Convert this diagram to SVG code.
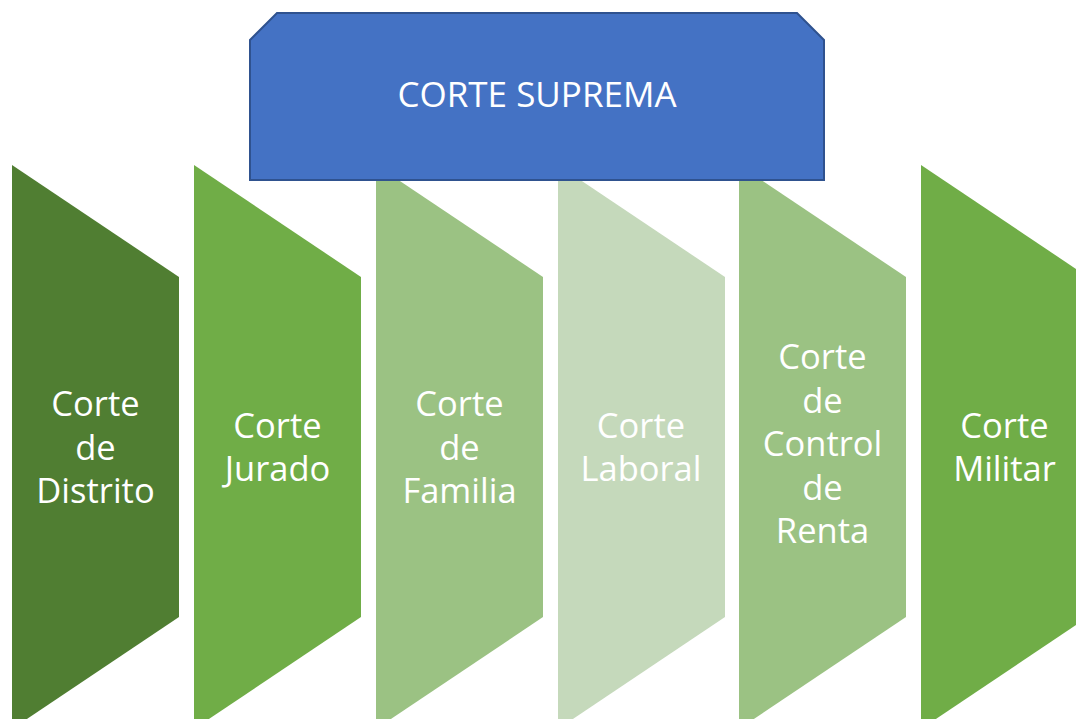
<svg xmlns="http://www.w3.org/2000/svg" width="1076" height="719" viewBox="0 0 1076 719">
<style>
.t{font-family:"Open Sans","Liberation Sans",sans-serif;fill:#ffffff;text-anchor:middle}
.g{font-size:34.5px}
.s{font-size:35px}
</style>
<defs>
<path id="sh" d="M0,0 L167,112 L167,452 L0,564 Z"/>
</defs>
<rect width="1076" height="719" fill="#ffffff"/>
<g id="n1"><use href="#sh" x="12" y="165" fill="#507E32"/>
<text class="t g"><tspan x="95.5" y="416">Corte</tspan><tspan x="95.5" y="459.5">de</tspan><tspan x="95.5" y="503">Distrito</tspan></text></g>
<g id="n2"><use href="#sh" x="194" y="165" fill="#70AD47"/>
<text class="t g"><tspan x="277.5" y="437.5">Corte</tspan><tspan x="277.5" y="481">Jurado</tspan></text></g>
<g id="n3"><use href="#sh" x="376" y="165" fill="#9BC283"/>
<text class="t g"><tspan x="459.5" y="416">Corte</tspan><tspan x="459.5" y="459.5">de</tspan><tspan x="459.5" y="503">Familia</tspan></text></g>
<g id="n4"><use href="#sh" x="558" y="165" fill="#C5D9BB"/>
<text class="t g"><tspan x="641" y="437.5">Corte</tspan><tspan x="641" y="481">Laboral</tspan></text></g>
<g id="n5"><use href="#sh" x="739" y="165" fill="#9BC283"/>
<text class="t g"><tspan x="822.5" y="369">Corte</tspan><tspan x="822.5" y="412.5">de</tspan><tspan x="822.5" y="456">Control</tspan><tspan x="822.5" y="499.5">de</tspan><tspan x="822.5" y="543">Renta</tspan></text></g>
<g id="n6"><use href="#sh" x="921" y="165" fill="#70AD47"/>
<text class="t g"><tspan x="1004.5" y="437.5">Corte</tspan><tspan x="1004.5" y="481">Militar</tspan></text></g>
<g id="top"><path d="M277,13 L797,13 L824,40 L824,180 L250,180 L250,40 Z" fill="#4472C4" stroke="#2F528F" stroke-width="2"/>
<text class="t s" x="537" y="107">CORTE SUPREMA</text></g>
<g id="connectors"/>
</svg>
